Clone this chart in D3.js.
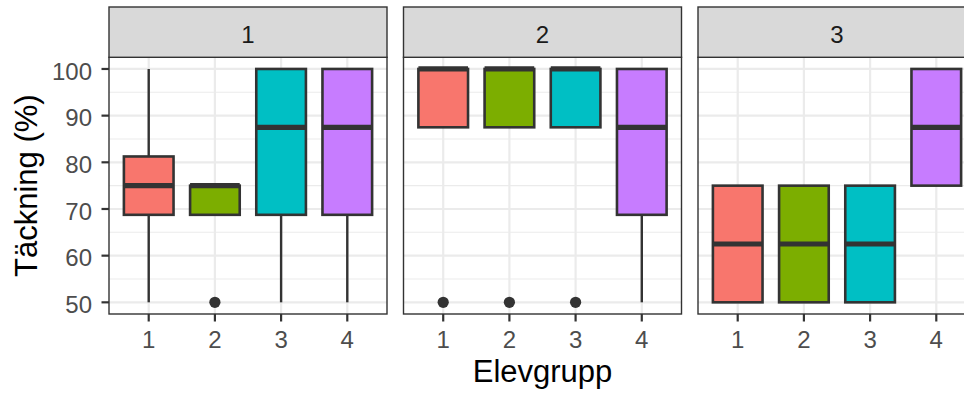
<!DOCTYPE html>
<html>
<head>
<meta charset="utf-8">
<script src="https://cdn.jsdelivr.net/npm/d3@7"></script>
<style>
  html, body { margin: 0; padding: 0; background: #fff; }
  svg { display: block; font-family: "Liberation Sans", Arial, sans-serif; }
</style>
</head>
<body>
<svg id="chart" width="964" height="394"></svg>
<script>
// Facets (strip labels) and pupil groups on the x axis
const facets = ["1", "2", "3"];
const groups = ["1", "2", "3", "4"];
const groupColors = ["#F8766D", "#7CAE00", "#00BFC4", "#C77CFF"];
const yTicks = [50, 60, 70, 80, 90, 100];
const yMinor = [55, 65, 75, 85, 95];

// Box statistics, one row per facet, one value per group
const whiskerLow  = [[50, 68.75, 50, 50], [87.5, 87.5, 87.5, 50], [50, 50, 50, 75]];
const q1          = [[68.75, 68.75, 68.75, 68.75], [87.5, 87.5, 87.5, 68.75], [50, 50, 50, 75]];
const median      = [[75, 75, 87.5, 87.5], [100, 100, 100, 87.5], [62.5, 62.5, 62.5, 87.5]];
const q3          = [[81.25, 75, 100, 100], [100, 100, 100, 100], [75, 75, 75, 100]];
const whiskerHigh = [[100, 75, 100, 100], [100, 100, 100, 100], [75, 75, 75, 100]];
const outliers    = [[[], [50], [], []], [[50], [50], [50], []], [[], [], [], []]];

const svg = d3.select("#chart");

// Layout
const panelW = 278, panelGap = 16.5, panelLeft = 109;
const stripTop = 7, panelTop = 57.3, panelBottom = 314;

const y = d3.scaleLinear().domain([47.5, 102.5]).range([panelBottom, panelTop]);

facets.forEach((f, fi) => {
  const x0 = panelLeft + fi * (panelW + panelGap);
  const x = d3.scaleLinear().domain([0.4, 4.6]).range([x0, x0 + panelW]);
  const g = svg.append("g");

  // panel background
  g.append("rect").attr("x", x0).attr("y", panelTop)
    .attr("width", panelW).attr("height", panelBottom - panelTop).attr("fill", "#fff");

  // minor grid
  g.selectAll(".minor").data(yMinor).join("line")
    .attr("x1", x0).attr("x2", x0 + panelW)
    .attr("y1", d => y(d)).attr("y2", d => y(d))
    .attr("stroke", "#EBEBEB").attr("stroke-width", 1.1);
  // major grid
  g.selectAll(".majorY").data(yTicks).join("line")
    .attr("x1", x0).attr("x2", x0 + panelW)
    .attr("y1", d => y(d)).attr("y2", d => y(d))
    .attr("stroke", "#EBEBEB").attr("stroke-width", 2.2);
  g.selectAll(".majorX").data(groups).join("line")
    .attr("x1", (d, i) => x(i + 1)).attr("x2", (d, i) => x(i + 1))
    .attr("y1", panelTop).attr("y2", panelBottom)
    .attr("stroke", "#EBEBEB").attr("stroke-width", 2.2);

  const bw = 0.75;
  groups.forEach((grp, gi) => {
    const cx = x(gi + 1);
    const left = x(gi + 1 - bw / 2), right = x(gi + 1 + bw / 2);
    // whiskers
    g.append("line").attr("x1", cx).attr("x2", cx)
      .attr("y1", y(q3[fi][gi])).attr("y2", y(whiskerHigh[fi][gi]))
      .attr("stroke", "#333333").attr("stroke-width", 2.4);
    g.append("line").attr("x1", cx).attr("x2", cx)
      .attr("y1", y(q1[fi][gi])).attr("y2", y(whiskerLow[fi][gi]))
      .attr("stroke", "#333333").attr("stroke-width", 2.4);
    // box
    g.append("rect").attr("x", left).attr("y", y(q3[fi][gi]))
      .attr("width", right - left).attr("height", y(q1[fi][gi]) - y(q3[fi][gi]))
      .attr("fill", groupColors[gi]).attr("stroke", "#333333").attr("stroke-width", 2.6);
    // median
    g.append("line").attr("x1", left).attr("x2", right)
      .attr("y1", y(median[fi][gi])).attr("y2", y(median[fi][gi]))
      .attr("stroke", "#333333").attr("stroke-width", 5.2);
    // outliers
    g.selectAll(null).data(outliers[fi][gi]).join("circle")
      .attr("cx", cx).attr("cy", d => y(d)).attr("r", 5.6).attr("fill", "#333333");
  });

  // panel border
  g.append("rect").attr("x", x0).attr("y", panelTop)
    .attr("width", panelW).attr("height", panelBottom - panelTop)
    .attr("fill", "none").attr("stroke", "#333333").attr("stroke-width", 1.4);

  // strip
  g.append("rect").attr("x", x0).attr("y", stripTop)
    .attr("width", panelW).attr("height", panelTop - stripTop)
    .attr("fill", "#D9D9D9").attr("stroke", "#333333").attr("stroke-width", 1.4);
  g.append("text").attr("x", x0 + panelW / 2).attr("y", 42.5)
    .attr("text-anchor", "middle").attr("font-size", 24).attr("fill", "#1A1A1A").text(f);

  // x axis ticks + labels
  g.selectAll(".xt").data(groups).join("line")
    .attr("x1", (d, i) => x(i + 1)).attr("x2", (d, i) => x(i + 1))
    .attr("y1", panelBottom).attr("y2", panelBottom + 7.5)
    .attr("stroke", "#333333").attr("stroke-width", 2.2);
  g.selectAll(".xl").data(groups).join("text")
    .attr("x", (d, i) => x(i + 1)).attr("y", 348.3)
    .attr("text-anchor", "middle").attr("font-size", 24).attr("fill", "#4D4D4D")
    .text(d => d);
});

// y axis on first panel
const ya = svg.append("g");
ya.selectAll("line").data(yTicks).join("line")
  .attr("x1", panelLeft - 7.5).attr("x2", panelLeft)
  .attr("y1", d => y(d)).attr("y2", d => y(d))
  .attr("stroke", "#333333").attr("stroke-width", 2.2);
ya.selectAll("text").data(yTicks).join("text")
  .attr("x", 92).attr("y", d => y(d) + 10.7)
  .attr("text-anchor", "end").attr("font-size", 24).attr("fill", "#4D4D4D")
  .text(d => d);

// axis titles
svg.append("text")
  .attr("x", panelLeft + (3 * panelW + 2 * panelGap) / 2).attr("y", 381.7)
  .attr("text-anchor", "middle").attr("font-size", 31).attr("fill", "#000")
  .text("Elevgrupp");
svg.append("text")
  .attr("transform", `translate(37,${(panelTop + panelBottom) / 2}) rotate(-90)`)
  .attr("text-anchor", "middle").attr("font-size", 31).attr("fill", "#000")
  .text("Täckning (%)");
</script>
</body>
</html>
